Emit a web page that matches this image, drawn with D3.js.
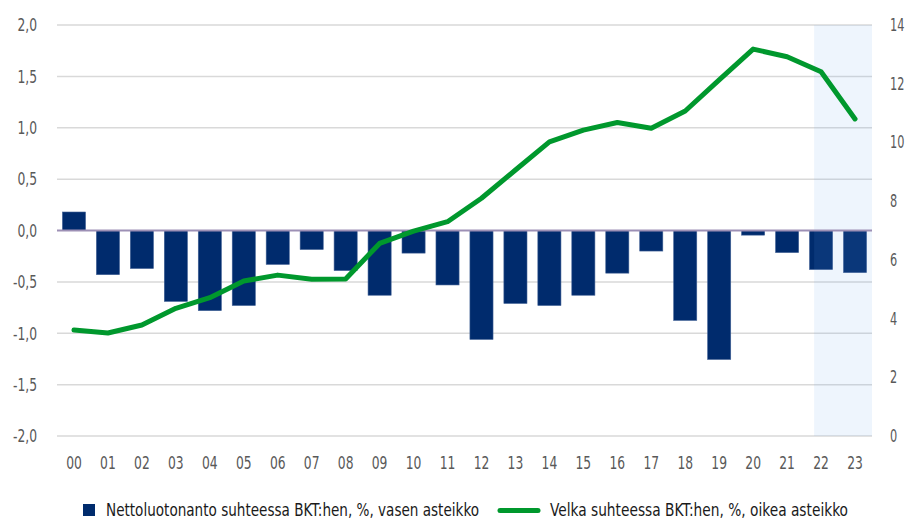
<!DOCTYPE html>
<html>
<head>
<meta charset="utf-8">
<script src="https://cdn.jsdelivr.net/npm/d3@7"></script>
<style>
  body { margin: 0; background: #fff; }
  svg text { font-family: "Liberation Sans Narrow", "DejaVu Sans Condensed", "Arial Narrow", sans-serif; }
</style>
</head>
<body>
<div id="chart"></div>
<script>
const years = ["00","01","02","03","04","05","06","07","08","09","10","11",
  "12","13","14","15","16","17","18","19","20","21","22","23"];
// nettoluotonanto, % BKT:sta (vasen asteikko)
const lending = [0.18, -0.43, -0.37, -0.69, -0.78, -0.73, -0.33, -0.185, -0.39, -0.63, -0.22, -0.53,
  -1.06, -0.71, -0.73, -0.63, -0.415, -0.20, -0.875, -1.255, -0.045, -0.215, -0.38, -0.41];
// velka, % BKT:sta (oikea asteikko)
const debt = [3.61, 3.51, 3.78, 4.35, 4.71, 5.28, 5.48, 5.34, 5.35, 6.56, 6.98, 7.30,
  8.10, 9.06, 10.02, 10.42, 10.68, 10.48, 11.07, 12.13, 13.18, 12.92, 12.41, 10.80];
const leftTicks = [2, 1.5, 1, 0.5, 0, -0.5, -1, -1.5, -2];
const rightTicks = [0, 2, 4, 6, 8, 10, 12, 14];
const forecastYears = ["22", "23"];
const legendLabels = ["Nettoluotonanto suhteessa BKT:hen, %, vasen asteikko",
  "Velka suhteessa BKT:hen, %, oikea asteikko"];

const width = 909, height = 520;
const margin = {top: 25, right: 37, bottom: 84, left: 57};

const svg = d3.select("#chart").append("svg")
  .attr("width", width)
  .attr("height", height);

const x = d3.scaleBand()
  .domain(years)
  .range([margin.left, width - margin.right])
  .paddingInner(0.32)
  .paddingOuter(0.16);

const yLeft = d3.scaleLinear().domain([-2, 2]).range([height - margin.bottom, margin.top]);
const yRight = d3.scaleLinear().domain([0, 14]).range([height - margin.bottom, margin.top]);

const fmt = d => d3.format(".1f")(d).replace(".", ",").replace("−", "-");

// kapeampi kirjasin: puristetaan tekstiä vaakasuunnassa
const condense = (sel, factor) => sel.each(function() {
  const w = this.getComputedTextLength();
  d3.select(this)
    .attr("textLength", w * factor)
    .attr("lengthAdjust", "spacingAndGlyphs");
});

// gridlines
svg.append("g")
  .selectAll("line")
  .data(leftTicks.filter(d => d !== 0))
  .join("line")
    .attr("x1", margin.left)
    .attr("x2", width - margin.right)
    .attr("y1", d => yLeft(d))
    .attr("y2", d => yLeft(d))
    .attr("stroke", "#d9d9d9")
    .attr("stroke-width", 1.5);

// bars
svg.append("g")
  .selectAll("rect")
  .data(years.map((y, i) => ({year: y, value: lending[i]})))
  .join("rect")
    .attr("x", d => x(d.year))
    .attr("width", x.bandwidth())
    .attr("y", d => yLeft(Math.max(0, d.value)))
    .attr("height", d => Math.abs(yLeft(d.value) - yLeft(0)))
    .attr("fill", "#002b6d")
    .attr("stroke", "#3f5f94")
    .attr("stroke-width", 0.6);

// ennusteen varjostus
const step = x.step();
const shadeX0 = x(forecastYears[0]) + x.bandwidth() * 0.2;
const shadeX1 = x(forecastYears[forecastYears.length - 1]) + x.bandwidth() + step * x.paddingOuter();
svg.append("rect")
  .attr("x", shadeX0)
  .attr("y", margin.top)
  .attr("width", shadeX1 - shadeX0)
  .attr("height", yLeft(-2) - margin.top)
  .attr("fill", "rgb(94,161,236)")
  .attr("fill-opacity", 0.106);

// zero line
svg.append("line")
  .attr("x1", margin.left)
  .attr("x2", width - margin.right)
  .attr("y1", yLeft(0))
  .attr("y2", yLeft(0))
  .attr("stroke", "#9d90b5")
  .attr("stroke-width", 2);

// debt line
const line = d3.line()
  .x((d, i) => x(years[i]) + x.bandwidth() / 2)
  .y(d => yRight(d));

svg.append("path")
  .datum(debt)
  .attr("d", line)
  .attr("fill", "none")
  .attr("stroke", "#00982d")
  .attr("stroke-width", 5)
  .attr("stroke-linejoin", "round")
  .attr("stroke-linecap", "round");

// axes (labels only)
const styleAxis = (g, size, factor) => {
  g.select(".domain").remove();
  g.selectAll("text")
    .style("font-size", size + "px")
    .attr("fill", "#595959")
    .call(condense, factor);
};

svg.append("g")
  .attr("transform", `translate(${margin.left - 20},0)`)
  .call(d3.axisLeft(yLeft).tickValues(leftTicks).tickFormat(fmt).tickSize(0).tickPadding(0))
  .call(styleAxis, 18, 0.76);

svg.append("g")
  .attr("transform", `translate(${width - margin.right + 18},0)`)
  .call(d3.axisRight(yRight).tickValues(rightTicks).tickSize(0).tickPadding(0))
  .call(styleAxis, 17, 0.74);

svg.append("g")
  .attr("transform", `translate(0,${yLeft(-2) + 20})`)
  .call(d3.axisBottom(x).tickSize(0).tickPadding(0))
  .call(styleAxis, 18, 0.76);

// legend
const legend = svg.append("g").attr("transform", "translate(0,510)");
legend.append("rect")
  .attr("x", 83).attr("y", -6)
  .attr("width", 12).attr("height", 12)
  .attr("fill", "#002b6d");
legend.append("text")
  .attr("x", 106).attr("y", 0)
  .attr("dy", "0.35em")
  .style("font-size", "18px")
  .attr("fill", "#1a1a1a")
  .attr("textLength", 373)
  .attr("lengthAdjust", "spacingAndGlyphs")
  .text(legendLabels[0]);
legend.append("line")
  .attr("x1", 500).attr("x2", 538)
  .attr("y1", 0.5).attr("y2", 0.5)
  .attr("stroke", "#00982d")
  .attr("stroke-width", 5)
  .attr("stroke-linecap", "round");
legend.append("text")
  .attr("x", 550).attr("y", 0)
  .attr("dy", "0.35em")
  .style("font-size", "18px")
  .attr("fill", "#1a1a1a")
  .attr("textLength", 298)
  .attr("lengthAdjust", "spacingAndGlyphs")
  .text(legendLabels[1]);
</script>
</body>
</html>
